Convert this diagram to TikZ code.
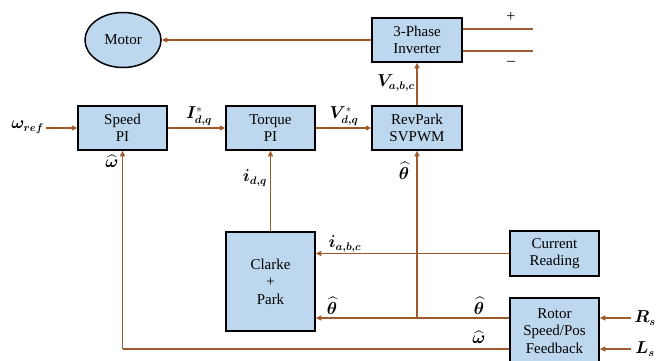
\documentclass[tikz,border=0pt]{standalone}
\usepackage{fontspec}
\setmainfont{Liberation Serif}
\usepackage{amsmath,bm}
\usetikzlibrary{shapes.geometric,arrows.meta}
\definecolor{wire}{HTML}{9E5A2A}
\definecolor{boxfill}{HTML}{BDD7EE}
\tikzset{
  blk/.style={draw=black, line width=1.5pt, fill=boxfill, align=center, inner sep=0pt,
    font=\fontsize{15}{17.5}\selectfont},
  wireline/.style={draw=wire, line width=1.5pt},
  arr/.style={wireline, -{Triangle[length=5.5pt,width=5pt]}},
  lbl/.style={font=\fontsize{16}{18}\selectfont, inner sep=0pt}
}
\begin{document}
\begin{tikzpicture}[x=1pt,y=-1pt]
\useasboundingbox (0,0) rectangle (662,360);
\clip (0,0) rectangle (662,360);
% blocks
\node[blk, ellipse, minimum width=76pt, minimum height=55pt] (motor) at (123,40) {Motor};
\node[blk, minimum width=89pt, minimum height=44pt] (speed) at (122.5,128) {Speed\\PI};
\node[blk, minimum width=89pt, minimum height=44pt] (torque) at (270.5,128) {Torque\\PI};
\node[blk, minimum width=90pt, minimum height=44pt] (rev) at (417,128) {RevPark\\SVPWM};
\node[blk, minimum width=90pt, minimum height=44pt] (inv) at (417,40) {3-Phase\\Inverter};
\node[blk, minimum width=89pt, minimum height=99pt] (clarke) at (270.5,281.5) {Clarke\\+\\Park};
\node[blk, minimum width=89pt, minimum height=45pt] (cur) at (554.5,253.5) {Current\\Reading};
\node[blk, minimum width=89pt, minimum height=66pt] (rotor) at (554.5,331) {Rotor\\Speed/Pos\\Feedback};
% coordinates
\coordinate (pA) at (533,29);
\coordinate (pB) at (533,51);
\coordinate (wref) at (46,128);
\coordinate (junc) at (417,318);
\coordinate (wcorner) at (122.5,349);
\coordinate (rs) at (631,318);
\coordinate (ls) at (631,349);
% connectors
\draw[arr] (inv.west) -- (motor.east);
\draw[wireline] (inv.east |- pA) -- (pA);
\draw[wireline] (inv.east |- pB) -- (pB);
\draw[arr] (rev.north) -- (inv.south);
\draw[arr] (wref) -- (speed.west);
\draw[arr] (speed.east) -- (torque.west);
\draw[arr] (torque.east) -- (rev.west);
\draw[arr] (clarke.north) -- (torque.south);
\draw[arr] (cur.west) -- (cur.west -| clarke.east);
\draw[arr] (rotor.west |- junc) -- (junc -| clarke.east);
\draw[arr] (junc) -- (rev.south);
\draw[wireline] (rotor.west |- wcorner) -- (wcorner);
\draw[arr] (wcorner) -- (speed.south);
\draw[arr] (rs) -- (rs -| rotor.east);
\draw[arr] (ls) -- (ls -| rotor.east);
% labels
\node[lbl] (lp) at (511,17) {+};
\node[lbl] (lm) at (511,63) {--};
\node[lbl, anchor=east] (lwref) at (44,127) {$\boldsymbol{\omega}_{\boldsymbol{ref}}$};
\node[lbl] (lI) at (199,116) {$\boldsymbol{I}^{*}_{\boldsymbol{d,q}}$};
\node[lbl] (lV) at (344,116) {$\boldsymbol{V}^{*}_{\boldsymbol{d,q}}$};
\node[lbl] (lVabc) at (396,83) {$\boldsymbol{V}_{\boldsymbol{a,b,c}}$};
\node[lbl] (lw1) at (112,161) {$\widehat{\boldsymbol{\omega}}$};
\node[lbl] (lth1) at (404,171) {$\widehat{\boldsymbol{\theta}}$};
\node[lbl] (lidq) at (255,178) {$\boldsymbol{i}_{\boldsymbol{d,q}}$};
\node[lbl] (liabc) at (345,244) {$\boldsymbol{i}_{\boldsymbol{a,b,c}}$};
\node[lbl] (lth2) at (332,306) {$\widehat{\boldsymbol{\theta}}$};
\node[lbl] (lth3) at (479,306) {$\widehat{\boldsymbol{\theta}}$};
\node[lbl] (lw2) at (479,337) {$\widehat{\boldsymbol{\omega}}$};
\node[lbl] (lRs) at (645,318) {$\boldsymbol{R_s}$};
\node[lbl] (lLs) at (645,349) {$\boldsymbol{L_s}$};
\end{tikzpicture}
\end{document}
